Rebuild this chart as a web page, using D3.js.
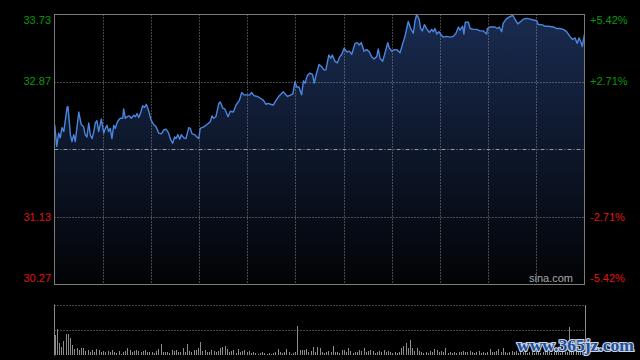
<!DOCTYPE html>
<html><head><meta charset="utf-8">
<script src="https://cdn.jsdelivr.net/npm/d3@7"></script>
<style>html,body{margin:0;padding:0;background:#000;}svg{display:block;}</style>
</head><body>
<svg id="c" width="640" height="360"></svg>
<script>
// ---- data ----
const minutes = [0.1,1.0,1.9,2.6,3.4,4.2,5.7,6.1,7.2,7.9,8.7,9.4,11.0,12.1,13.2,13.9,14.7,15.5,16.2,17.0,17.8,18.5,19.2,20.0,21.2,22.3,23.0,23.8,24.5,25.3,26.0,26.8,27.5,28.3,29.1,29.8,30.9,31.3,32.1,32.8,33.9,34.8,35.9,36.6,37.4,38.1,38.9,39.9,40.8,41.6,42.7,43.7,44.9,46.0,47.2,48.4,49.5,50.5,51.7,52.4,53.5,54.4,55.0,55.9,56.7,57.4,58.5,59.5,60.8,61.5,62.3,63.5,64.5,65.3,66.0,67.6,69.1,70.6,71.3,72.1,73.1,74.4,75.1,76.2,77.1,77.7,78.6,79.6,81.0,82.2,83.7,84.8,85.8,87.0,88.5,89.3,90.3,91.8,93.1,94.6,95.8,96.8,97.9,99.1,100.3,101.8,103.6,104.8,105.6,107.0,107.9,108.9,109.7,110.7,111.9,112.7,113.4,114.5,115.7,116.9,117.6,118.7,119.8,121.0,122.0,122.9,124.2,125.1,125.8,127.0,128.1,129.0,130.1,131.2,132.3,133.5,134.6,136.1,137.1,138.0,138.9,140.2,141.4,142.6,143.6,144.7,145.9,146.6,147.4,148.6,149.6,150.9,151.6,152.7,153.9,155.0,156.5,157.7,158.7,160.2,161.3,162.5,163.2,164.0,165.1,165.8,166.6,167.5,168.5,169.7,170.8,171.5,172.3,173.1,174.1,175.0,176.1,177.6,179.1,180.6,181.8,182.9,183.6,184.8,185.4,186.0,187.4,188.2,189.6,191.2,192.7,194.2,195.7,196.0,197.2,198.4,199.5,200.5,201.4,202.5,203.2,204.5,206.0,207.5,208.5,209.8,211.1,212.3,213.8,215.3,216.8,218.4,219.1,220.6,222.1,223.6,225.9,227.4,228.9,230.4,231.9,233.4,234.6,235.7,236.7,237.5,238.3,239.0,240.0];
const prices = [32.32,32.04,32.21,32.15,32.28,32.23,32.54,32.55,32.19,32.10,32.19,32.10,32.48,32.32,32.29,32.19,32.16,32.34,32.19,32.14,32.23,32.34,32.37,32.23,32.39,32.21,32.27,32.31,32.23,32.27,32.14,32.31,32.27,32.34,32.38,32.40,32.40,32.52,32.40,32.42,32.43,32.40,32.44,32.42,32.46,32.41,32.46,32.56,32.54,32.58,32.49,32.38,32.32,32.29,32.21,32.20,32.25,32.26,32.21,32.14,32.08,32.16,32.14,32.19,32.13,32.19,32.15,32.14,32.28,32.27,32.20,32.19,32.16,32.14,32.27,32.29,32.32,32.36,32.43,32.40,32.42,32.59,32.61,32.53,32.52,32.48,32.42,32.49,32.48,32.57,32.63,32.73,32.70,32.70,32.70,32.73,32.69,32.68,32.66,32.63,32.58,32.59,32.58,32.57,32.63,32.69,32.74,32.70,32.68,32.70,32.71,32.87,32.80,32.80,32.70,32.88,32.85,32.95,32.98,32.96,32.85,32.98,33.09,33.06,33.02,33.02,33.21,33.17,33.21,33.13,33.11,33.18,33.22,33.30,33.25,33.26,33.22,33.36,33.37,33.34,33.37,33.26,33.28,33.25,33.19,33.16,33.19,33.29,33.17,33.13,33.23,33.37,33.30,33.26,33.28,33.28,33.24,33.36,33.45,33.64,33.55,33.49,33.64,33.73,33.67,33.55,33.52,33.60,33.55,33.50,33.54,33.51,33.55,33.48,33.51,33.47,33.44,33.45,33.44,33.45,33.49,33.57,33.53,33.58,33.48,33.63,33.63,33.55,33.54,33.54,33.52,33.52,33.48,33.55,33.57,33.57,33.57,33.55,33.57,33.51,33.62,33.67,33.70,33.72,33.67,33.61,33.64,33.67,33.68,33.67,33.66,33.65,33.60,33.60,33.58,33.58,33.57,33.55,33.55,33.54,33.51,33.45,33.41,33.43,33.36,33.43,33.38,33.32,33.48];
const volumes = [2000,2570,1230,800,1400,2070,2070,1670,1000,570,
 670,470,730,670,400,470,330,470,330,
 570,470,270,400,270,400,330,470,
 330,200,400,130,270,400,670,530,270,
 400,470,400,270,400,530,270,330,
 270,200,400,570,1130,270,330,270,200,
 470,400,530,270,330,670,330,1070,400,
 270,530,470,730,1330,400,470,270,270,
 470,400,270,400,730,800,900,570,270,
 400,530,200,570,270,400,470,330,400,
 200,270,200,130,200,270,200,130,
 200,130,200,330,570,270,200,270,570,
 270,130,200,270,
 2900,
 470,530,470,600,330,400,800,270,800,670,
 270,200,330,400,270,900,270,330,200,530,
 470,270,670,400,200,270,270,530,400,670,
 270,400,470,400,200,270,400,270,470,330,
 400,270,200,270,200,270,670,900,1230,730,
 1470,670,400,730,400,270,200,270,200,400,
 270,600,470,330,400,270,670,200,270,200,
 270,200,270,270,400,270,270,400,270,200,
 270,400,200,270,200,270,600,270,270,400,
 600,270,670,270,200,270,400,
 270,400,200,330,270,400,200,270,330,200,400,270,200,330,270,400,270,200,330,400,270,200,270,330,270,
 2800,
 330,270,400,270,330,400,5060];
const prevClose = 32.00;
const priceMin = 30.27, priceMax = 33.73;
const priceTicks = [33.73, 32.87, 31.13, 30.27];
const pctLabels = ["+5.42%", "+2.71%", "-2.71%", "-5.42%"];
const sessionMinutes = 240;
const gridDivisions = 11;
const volMax = 5060;

// ---- layout ----
const svg = d3.select("#c");
svg.append("rect").attr("width",640).attr("height",360).attr("fill","#000");
const L = 54.5, R = 584.5, T = 14.5, B = 284.5;
const VT = 304.5, VB = 355.5;
const x = d3.scaleLinear().domain([0, sessionMinutes]).range([L, R]);
const y = d3.scaleLinear().domain([priceMin, priceMax]).range([B, T]);
const yv = d3.scaleLinear().domain([0, volMax]).range([VB - 0.5, VT]);

const defs = svg.append("defs");
const grad = defs.append("linearGradient").attr("id","g").attr("gradientUnits","userSpaceOnUse")
  .attr("x1",0).attr("x2",0).attr("y1",T).attr("y2",B);
grad.append("stop").attr("offset","0").attr("stop-color","#192b50");
grad.append("stop").attr("offset","1").attr("stop-color","#020305");

const pts = minutes.map((m,i)=>({m, p:prices[i]}));

// area
svg.append("path").datum(pts)
  .attr("d", d3.area().x(d=>x(d.m)).y0(B).y1(d=>y(d.p)))
  .attr("fill","url(#g)");

// grid
const gridColor = "#8c8c8c";
const vgrid = d3.range(1, gridDivisions).map(k => k*sessionMinutes/gridDivisions);
svg.append("g").selectAll("line").data(vgrid).join("line")
  .attr("x1",d=>Math.round(x(d))+0.5).attr("x2",d=>Math.round(x(d))+0.5)
  .attr("y1",T).attr("y2",B)
  .attr("stroke",gridColor).attr("stroke-dasharray","1,2").attr("stroke-width",1);
svg.append("g").selectAll("line").data([priceTicks[1], priceTicks[2]]).join("line")
  .attr("x1",L).attr("x2",R)
  .attr("y1",d=>Math.round(y(d))+0.5).attr("y2",d=>Math.round(y(d))+0.5)
  .attr("stroke",gridColor).attr("stroke-dasharray","1,2");
svg.append("line").attr("x1",L).attr("x2",R)
  .attr("y1",Math.round(y(prevClose))+0.5).attr("y2",Math.round(y(prevClose))+0.5)
  .attr("stroke","#9a9a9a").attr("stroke-dasharray","4,2,1,2");

// line
svg.append("path").datum(pts)
  .attr("d", d3.line().x(d=>x(d.m)).y(d=>y(d.p)))
  .attr("fill","none").attr("stroke","#4a86e0").attr("stroke-width",1.4)
  .attr("stroke-linejoin","round");

// border
svg.append("rect").attr("x",L).attr("y",T).attr("width",R-L).attr("height",B-T)
  .attr("fill","none").attr("stroke","#7a7a7a").attr("stroke-width",1);

// labels
const green = "#0a9a0a", red = "#e01414";
const labY = v => Math.min(Math.max(y(v), T+6), B-6);
svg.append("g").selectAll("text").data(priceTicks).join("text")
  .attr("x",51).attr("y",d=>labY(d)).attr("dy","0.35em")
  .attr("text-anchor","end").attr("font-family","Liberation Sans, Arial, sans-serif")
  .attr("font-size",11).attr("fill",d=>d>prevClose?green:red).text(d=>d.toFixed(2));
svg.append("g").selectAll("text").data(priceTicks).join("text")
  .attr("x",590).attr("y",d=>labY(d)).attr("dy","0.35em")
  .attr("font-family","Liberation Sans, Arial, sans-serif")
  .attr("font-size",11).attr("fill",d=>d>prevClose?green:red).text((d,i)=>pctLabels[i]);

svg.append("text").attr("x",573).attr("y",282).attr("text-anchor","end")
  .attr("font-family","Liberation Sans, Arial, sans-serif").attr("font-size",11)
  .attr("fill","#a8a8a8").text("sina.com");

// volume panel
svg.append("g").selectAll("line").data([volMax, volMax/2]).join("line")
  .attr("x1",L).attr("x2",R).attr("y1",d=>Math.round(yv(d))+0.5).attr("y2",d=>Math.round(yv(d))+0.5)
  .attr("stroke",gridColor).attr("stroke-dasharray","1,2");
svg.append("line").attr("x1",L).attr("x2",L).attr("y1",VT).attr("y2",VB)
  .attr("stroke","#8a8a8a");
svg.append("g").attr("shape-rendering","crispEdges").selectAll("rect").data(volumes).join("rect")
  .attr("x",(d,i)=>Math.round(x(i))).attr("width",1)
  .attr("y",d=>yv(d)).attr("height",d=>yv(0)-yv(d))
  .attr("fill","#8c8c8c");

// site watermark
svg.append("text").attr("x",517).attr("y",351)
  .attr("font-family","Liberation Serif, Times New Roman, serif").attr("font-weight","bold")
  .attr("font-size",17).attr("textLength",117).attr("lengthAdjust","spacingAndGlyphs")
  .attr("fill","#1d4f9a").attr("stroke","#c9d3e3").attr("stroke-width",2.2)
  .attr("paint-order","stroke").text("www.365jz.com");
</script>
</body></html>
